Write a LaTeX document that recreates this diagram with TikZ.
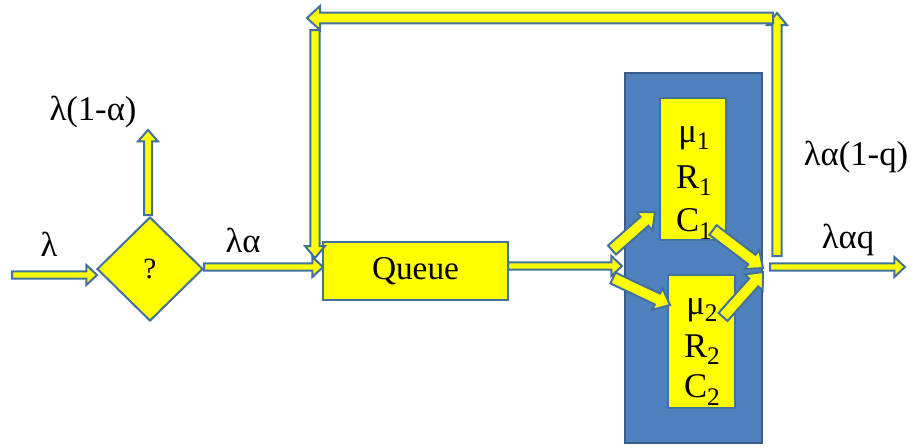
\documentclass[tikz,border=0pt]{standalone}
\usepackage{fontspec}
\setmainfont{Liberation Serif}
\usetikzlibrary{shapes.geometric,calc}
\definecolor{yel}{HTML}{FFFF00}
\definecolor{edge}{HTML}{41719C}
\definecolor{boxblue}{HTML}{4F81BD}
\definecolor{boxedge}{HTML}{385D8A}
\tikzset{
 barrowst/.style={fill=yel, draw=edge, line width=1.5pt, line join=miter},
 ybox/.style={draw=edge, fill=yel, line width=1.5pt, inner sep=0pt},
 lab/.style={font=\fontsize{26}{26}\selectfont, inner sep=0pt},
 boxlab/.style={font=\fontsize{26}{26}\selectfont, inner sep=0pt},
}
\newcommand\lowsub[1]{\raisebox{-0.45ex}{\fontsize{19}{19}\selectfont #1}}
% block arrow: half shaft width, half head width, head length, from, to
\newcommand\barrow[5]{%
  \coordinate (bam) at ($(#5)!#3!(#4)$);
  \draw[barrowst] ($(#4)!#1!90:(#5)$) -- ($(bam)!#1!90:(#5)$) -- ($(bam)!#2!90:(#5)$) -- (#5)
    -- ($(bam)!#2!-90:(#5)$) -- ($(bam)!#1!-90:(#5)$) -- ($(#4)!#1!-90:(#5)$) -- cycle;}
\begin{document}
\begin{tikzpicture}[x=0.75pt,y=-0.75pt]
\useasboundingbox (0,0) rectangle (914,447);
% server block
\node[draw=boxedge, fill=boxblue, line width=1.5pt, minimum width=102.75pt, minimum height=277.5pt, inner sep=0pt] (srv) at (693.5,258) {};
\node[ybox, minimum width=49.5pt, minimum height=106.5pt] (s1) at (693,169) {};
\node[ybox, minimum width=50.25pt, minimum height=99.75pt] (s2) at (701.5,341.5) {};
\node[boxlab] (mu1) at (694,138) {μ\lowsub{1}};
\node[boxlab] (r1) at (694,181) {R\lowsub{1}};
\node[boxlab] (c1) at (694,224) {C\lowsub{1}};
\node[boxlab] (mu2) at (702,310) {μ\lowsub{2}};
\node[boxlab] (r2) at (702,350) {R\lowsub{2}};
\node[boxlab] (c2) at (702,390) {C\lowsub{2}};
% decision and queue
\node[ybox, diamond, minimum width=79.5pt, minimum height=78pt, font=\fontsize{22}{22}\selectfont] (dia) at (150,269) {?};
\node[ybox, minimum width=138.75pt, minimum height=43.5pt, font=\fontsize{25}{25}\selectfont] (q) at (415.5,271) {Queue};
% labels
\node[lab] (l0) at (49,244) {λ};
\node[lab] (l1) at (93,112) {λ(1-α)};
\node[lab] (l2) at (243,240) {λα};
\node[lab] (l3) at (848,240) {λαq};
\node[lab] (l4) at (856,157) {λα(1-q)};
% arrow end points
\coordinate (inS) at (12,275);
\coordinate (inE) at (97,275);
\coordinate (upS) at (148,215);
\coordinate (upE) at (148,130);
\coordinate (laS) at (204,267);
\coordinate (laE) at (323,267);
\coordinate (qoS) at (508,266);
\coordinate (qoE) at (622,266);
\coordinate (d1S) at (612,250);
\coordinate (d1E) at (655,212);
\coordinate (d2S) at (613,278);
\coordinate (d2E) at (670,305);
\coordinate (m1S) at (713,230);
\coordinate (m1E) at (763,268);
\coordinate (m2S) at (723,317);
\coordinate (m2E) at (763,272);
\coordinate (ouS) at (770,267);
\coordinate (ouE) at (905,267);
\coordinate (fbS) at (777,256);
\coordinate (fbE) at (777,13);
\coordinate (tpS) at (773,18);
\coordinate (tpE) at (307,18);
\coordinate (ldS) at (315,30);
\coordinate (ldE) at (315,258);
% arrows
\barrow{2.8pt}{7.5pt}{8pt}{inS}{inE}
\barrow{3pt}{7.5pt}{8.5pt}{upS}{upE}
\barrow{2.8pt}{7.5pt}{8pt}{laS}{laE}
\barrow{2.8pt}{7.5pt}{8pt}{qoS}{qoE}
\barrow{4.5pt}{9pt}{10.5pt}{d1S}{d1E}
\barrow{4.5pt}{9pt}{10.5pt}{d2S}{d2E}
\barrow{4.5pt}{9pt}{10.5pt}{m1S}{m1E}
\barrow{4.5pt}{9pt}{10.5pt}{m2S}{m2E}
\barrow{2.8pt}{7.5pt}{8pt}{ouS}{ouE}
\barrow{3.4pt}{7.5pt}{9pt}{fbS}{fbE}
\barrow{4.1pt}{9pt}{9.75pt}{tpS}{tpE}
\barrow{3.4pt}{7.5pt}{9pt}{ldS}{ldE}
\end{tikzpicture}
\end{document}
